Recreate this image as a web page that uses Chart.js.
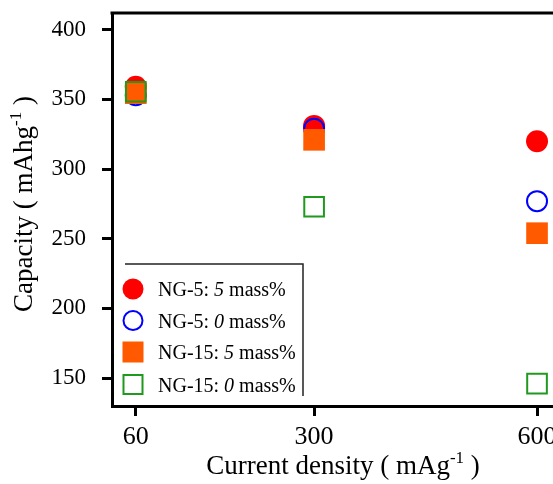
<!DOCTYPE html>
<html>
<head>
<meta charset="utf-8">
<script src="https://cdn.jsdelivr.net/npm/chart.js@4.4.1/dist/chart.umd.min.js"></script>
<style>
  html, body { margin: 0; padding: 0; overflow: hidden; background: #fff; }
  canvas { display: block; }
</style>
</head>
<body>
<canvas id="chart" width="553" height="484"></canvas>
<script>
// current density (mA/g)
const currents = [60, 300, 600];
// capacity (mAh/g) per sample
const ng5With = [359, 331, 320];
const ng5Without = [353, 329, 277];
const ng15With = [354.5, 321, 254];
const ng15Without = [355.5, 273, 146];

const xTicks = [60, 300, 600];
const yTicks = [150, 200, 250, 300, 350, 400];

// legend text: prefix, italic part, suffix
const legendLabels = [
    ["NG-5: ", "5", " mass%"],
    ["NG-5: ", "0", " mass%"],
    ["NG-15: ", "5", " mass%"],
    ["NG-15: ", "0", " mass%"],
];

const RED = "#ff0000";
const BLUE = "#0000ff";
const ORANGE = "#ff5a00";
const GREEN = "#1f9a1f";
const SERIF = "'Liberation Serif', 'Times New Roman', serif";

const toPoints = (ys) => currents.map((x, i) => ({ x: x, y: ys[i] }));

//draw text made of several pieces (normal / italic / superscript)
function drawPieces(ctx, pieces, x, y, align) {
    let total = 0;
    pieces.forEach(p => { ctx.font = p[1]; total += ctx.measureText(p[0]).width; });
    let cx = align === "center" ? x - total / 2 : x;
    pieces.forEach(p => {
        ctx.font = p[1];
        ctx.fillText(p[0], cx, y + (p[2] || 0));
        cx += ctx.measureText(p[0]).width;
    });
}

//no automatic label padding, the layout is fixed
const noPadding = (scale) => {
    scale.paddingTop = 0;
    scale.paddingBottom = 0;
    scale.paddingLeft = 0;
    scale.paddingRight = 0;
};

const extras = {
    id: "extras",
    afterDraw(chart) {
        const ctx = chart.ctx;
        const area = chart.chartArea;
        ctx.save();
        //the plot runs past the right edge of the picture: keep that edge open
        ctx.fillStyle = "#fff";
        ctx.fillRect(area.right - 4, area.top + 2, 6, area.bottom - area.top - 4);

        //top frame line
        ctx.strokeStyle = "#000";
        ctx.lineWidth = 3;
        ctx.beginPath();
        ctx.moveTo(area.left - 1.5, area.top);
        ctx.lineTo(area.right + 2, area.top);
        ctx.stroke();

        ctx.fillStyle = "#000";
        ctx.textAlign = "left";
        ctx.textBaseline = "alphabetic";
        const big = "27px " + SERIF;
        const sup = "17px " + SERIF;
        //x title
        drawPieces(ctx, [["Current density ( mAg", big], ["-1", sup, -11], [" )", big]], 343, 474, "center");
        //y title
        ctx.save();
        ctx.translate(31.5, 204);
        ctx.rotate(-Math.PI / 2);
        drawPieces(ctx, [["Capacity ( mAhg", big], ["-1", sup, -11], [" )", big]], 0, 0, "center");
        ctx.restore();

        //legend frame (top and right only)
        ctx.strokeStyle = "#222";
        ctx.lineWidth = 1.5;
        ctx.beginPath();
        ctx.moveTo(125, 264);
        ctx.lineTo(303, 264);
        ctx.lineTo(303, 396);
        ctx.stroke();

        //legend entries
        const rows = [289, 320.5, 352, 384.5];
        const styles = [
            { shape: "circle", fill: RED },
            { shape: "circle", stroke: BLUE },
            { shape: "rect", fill: ORANGE },
            { shape: "rect", stroke: GREEN },
        ];
        const norm = "20px " + SERIF;
        const ital = "italic 20px " + SERIF;
        rows.forEach((y, i) => {
            const s = styles[i];
            ctx.beginPath();
            if (s.shape === "circle") {
                ctx.arc(133, y, s.fill ? 10.5 : 9.5, 0, Math.PI * 2);
            } else {
                const h = s.fill ? 10.5 : 9.5;
                ctx.rect(133 - h, y - h, h * 2, h * 2);
            }
            if (s.fill) { ctx.fillStyle = s.fill; ctx.fill(); }
            if (s.stroke) { ctx.strokeStyle = s.stroke; ctx.lineWidth = 2; ctx.stroke(); }
            ctx.fillStyle = "#000";
            const l = legendLabels[i];
            drawPieces(ctx, [[l[0], norm], [l[1], ital], [l[2], norm]], 158, y + 7, "left");
        });
        ctx.restore();
    },
};

const chart = new Chart(document.getElementById("chart"), {
    type: "scatter",
    plugins: [extras],
    data: {
        datasets: [
            {
                label: "NG-5: 5 mass%",
                data: toPoints(ng5With),
                pointStyle: "circle",
                pointRadius: 11,
                backgroundColor: RED,
                borderColor: RED,
                borderWidth: 0,
                order: 4,
            },
            {
                label: "NG-5: 0 mass%",
                data: toPoints(ng5Without),
                pointStyle: "circle",
                pointRadius: 10,
                backgroundColor: "rgba(0,0,0,0)",
                borderColor: BLUE,
                borderWidth: 2,
                order: 3,
            },
            {
                label: "NG-15: 5 mass%",
                data: toPoints(ng15With),
                pointStyle: "rect",
                pointRadius: 15.3,
                backgroundColor: ORANGE,
                borderColor: ORANGE,
                borderWidth: 0,
                order: 2,
            },
            {
                label: "NG-15: 0 mass%",
                data: toPoints(ng15Without),
                pointStyle: "rect",
                pointRadius: 13.9,
                backgroundColor: "rgba(0,0,0,0)",
                borderColor: GREEN,
                borderWidth: 2,
                order: 1,
            },
        ],
    },
    options: {
        responsive: false,
        animation: false,
        layout: { autoPadding: false, padding: { top: 13, right: 0, left: 0, bottom: 0 } },
        plugins: {
            legend: { display: false },
            tooltip: { enabled: false },
        },
        scales: {
            x: {
                type: "linear",
                min: 28,
                max: 621.5,
                afterFit: (scale) => { scale.height = 78; noPadding(scale); },
                afterBuildTicks: (scale) => { scale.ticks = xTicks.map(v => ({ value: v })); },
                border: { display: true, color: "#000", width: 3 },
                grid: { drawOnChartArea: false, drawTicks: true, tickLength: 10, tickWidth: 3, tickColor: "#000" },
                ticks: {
                    color: "#000",
                    padding: 6,
                    maxRotation: 0,
                    font: { family: SERIF, size: 26 },
                },
            },
            y: {
                min: 130,
                max: 412,
                afterFit: (scale) => { scale.width = 112; noPadding(scale); },
                afterBuildTicks: (scale) => { scale.ticks = yTicks.map(v => ({ value: v })); },
                border: { display: true, color: "#000", width: 3 },
                grid: { drawOnChartArea: false, drawTicks: true, tickLength: 10, tickWidth: 3, tickColor: "#000" },
                ticks: {
                    color: "#000",
                    padding: 16,
                    font: { family: SERIF, size: 23 },
                },
            },
        },
    },
});
</script>
</body>
</html>
